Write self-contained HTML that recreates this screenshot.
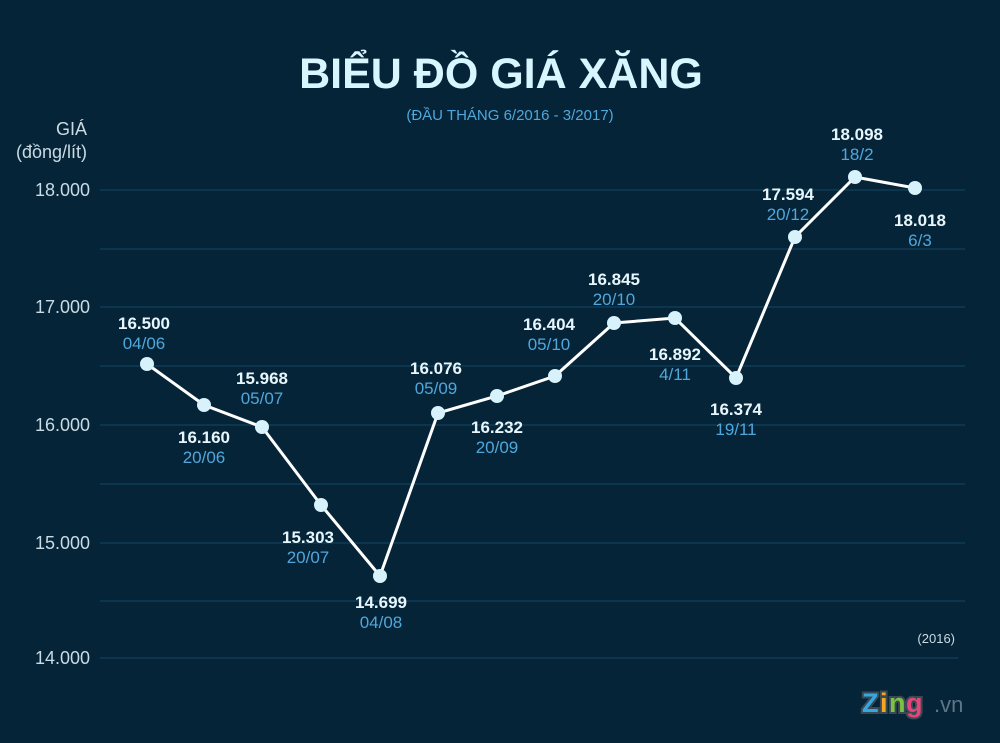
<!DOCTYPE html>
<html><head><meta charset="utf-8"><style>
html,body{margin:0;padding:0;background:#062438;}
svg{display:block}
.v{font-family:"Liberation Sans",sans-serif;font-weight:bold;font-size:17px;fill:#e6f6fc;text-anchor:middle}
.d{font-family:"Liberation Sans",sans-serif;font-size:17px;fill:#4fa7dc;text-anchor:middle}
.ax{font-family:"Liberation Sans",sans-serif;font-size:18px;fill:#c9dbe4;text-anchor:end}
</style></head><body>
<svg width="1000" height="743" viewBox="0 0 1000 743">
<rect width="1000" height="743" fill="#062438"/>
<text x="501" y="88" font-family="Liberation Sans,sans-serif" font-weight="bold" font-size="43" fill="#d8f6ff" text-anchor="middle">BIỂU ĐỒ GIÁ XĂNG</text>
<text x="510" y="120" font-family="Liberation Sans,sans-serif" font-size="15" fill="#4fa7dc" text-anchor="middle">(ĐẦU THÁNG 6/2016 - 3/2017)</text>
<text class="ax" x="87" y="135">GIÁ</text>
<text class="ax" x="87" y="158">(đồng/lít)</text>
<g stroke="#10405a" stroke-width="1.3">
<line x1="100" y1="190" x2="965" y2="190"/><line x1="100" y1="249" x2="965" y2="249"/>
<line x1="100" y1="307" x2="965" y2="307"/><line x1="100" y1="366" x2="965" y2="366"/>
<line x1="100" y1="425" x2="965" y2="425"/><line x1="100" y1="484" x2="965" y2="484"/>
<line x1="100" y1="543" x2="965" y2="543"/><line x1="100" y1="601" x2="965" y2="601"/>
<line x1="100" y1="658" x2="958" y2="658"/>
</g>
<text class="ax" x="90" y="196">18.000</text>
<text class="ax" x="90" y="313">17.000</text>
<text class="ax" x="90" y="431">16.000</text>
<text class="ax" x="90" y="549">15.000</text>
<text class="ax" x="90" y="664">14.000</text>
<text x="955" y="643" font-family="Liberation Sans,sans-serif" font-size="13" fill="#c9dbe4" text-anchor="end">(2016)</text>
<polyline fill="none" stroke="#fff" stroke-width="3" points="147,364 204,405 262,427 321,505 380,576 438,413 497,396 555,376 614,323 675,318 736,378 795,237 855,177 915,188"/>
<g fill="#d8f2fb">
<circle cx="147" cy="364" r="7"/><circle cx="204" cy="405" r="7"/><circle cx="262" cy="427" r="7"/>
<circle cx="321" cy="505" r="7"/><circle cx="380" cy="576" r="7"/><circle cx="438" cy="413" r="7"/>
<circle cx="497" cy="396" r="7"/><circle cx="555" cy="376" r="7"/><circle cx="614" cy="323" r="7"/>
<circle cx="675" cy="318" r="7"/><circle cx="736" cy="378" r="7"/><circle cx="795" cy="237" r="7"/>
<circle cx="855" cy="177" r="7"/><circle cx="915" cy="188" r="7"/>
</g>
<text class="v" x="144" y="329">16.500</text><text class="d" x="144" y="349">04/06</text>
<text class="v" x="204" y="443">16.160</text><text class="d" x="204" y="463">20/06</text>
<text class="v" x="262" y="384">15.968</text><text class="d" x="262" y="404">05/07</text>
<text class="v" x="308" y="543">15.303</text><text class="d" x="308" y="563">20/07</text>
<text class="v" x="381" y="608">14.699</text><text class="d" x="381" y="628">04/08</text>
<text class="v" x="436" y="374">16.076</text><text class="d" x="436" y="394">05/09</text>
<text class="v" x="497" y="433">16.232</text><text class="d" x="497" y="453">20/09</text>
<text class="v" x="549" y="330">16.404</text><text class="d" x="549" y="350">05/10</text>
<text class="v" x="614" y="285">16.845</text><text class="d" x="614" y="305">20/10</text>
<text class="v" x="675" y="360">16.892</text><text class="d" x="675" y="380">4/11</text>
<text class="v" x="736" y="415">16.374</text><text class="d" x="736" y="435">19/11</text>
<text class="v" x="788" y="200">17.594</text><text class="d" x="788" y="220">20/12</text>
<text class="v" x="857" y="140">18.098</text><text class="d" x="857" y="160">18/2</text>
<text class="v" x="920" y="226">18.018</text><text class="d" x="920" y="246">6/3</text>
<g font-family="Liberation Sans,sans-serif" font-weight="bold" font-size="27" stroke="#3a4a55" stroke-width="4" paint-order="stroke">
<text x="862" y="712" fill="#35a8e0">Z</text><text x="880" y="712" fill="#f5a623">i</text><text x="889" y="712" fill="#7dc142">n</text><text x="906" y="712" fill="#e8447a">g</text>
</g>
<text x="934" y="712" font-family="Liberation Sans,sans-serif" font-size="22" fill="#5d7585">.vn</text>
</svg>
</body></html>
